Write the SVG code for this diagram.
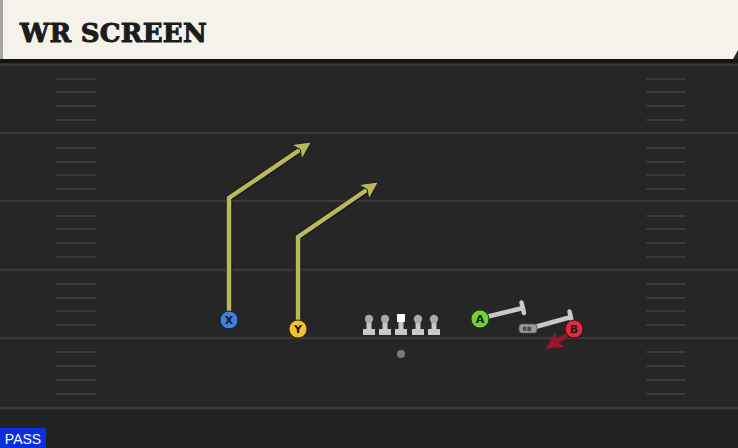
<svg xmlns="http://www.w3.org/2000/svg" width="738" height="448" viewBox="0 0 738 448">
<defs>
<style>
.yl{stroke:#393939;stroke-width:2.5}
.hm{stroke:#3a3a3a;stroke-width:2;stroke-linecap:round}
.route{fill:none;stroke:#b9ba55;stroke-width:4.5;stroke-linejoin:miter}
.routeo{fill:none;stroke:#15152a;stroke-width:6.5;stroke-linejoin:miter}
.blk{fill:none;stroke:#c8c8c8;stroke-width:4.5}
.lbl{font-family:"DejaVu Sans","Liberation Sans",sans-serif;font-weight:bold;font-size:11px;fill:#1a1a1a;text-anchor:middle}
.ol{fill:#c8c8c8}
</style>
<marker id="ah" markerWidth="4" markerHeight="4" refX="2" refY="2" orient="auto" markerUnits="strokeWidth">
<path d="M0,0 L4,2 L0,4 L1,2 Z" fill="#b9ba55" stroke="#15152a" stroke-width="0.2"/>
</marker>
<marker id="ahr" markerWidth="4" markerHeight="4" refX="2" refY="2" orient="auto" markerUnits="strokeWidth">
<path d="M0,0 L4,2 L0,4 L1,2 Z" fill="#9b1430"/>
</marker>
<g id="lineman">
<rect x="-6" y="13" width="12" height="6" class="ol"/>
<rect x="-2.5" y="3" width="5" height="11" class="ol"/>
<circle cx="0" cy="3" r="4.2" fill="#a8a8a8"/>
</g>
</defs>
<rect width="738" height="448" fill="#262626"/>
<rect x="0" y="410" width="738" height="38" fill="#222"/>
<g id="field">
<line class="yl" x1="0" y1="65" x2="738" y2="65"/>
<line class="yl" x1="0" y1="133" x2="738" y2="133"/>
<line class="yl" x1="0" y1="201" x2="738" y2="201"/>
<line class="yl" x1="0" y1="270" x2="738" y2="270"/>
<line class="yl" x1="0" y1="338" x2="738" y2="338"/>
<line class="yl" x1="0" y1="408" x2="738" y2="408"/>
<g id="hashL">
<line class="hm" x1="57" y1="79" x2="95" y2="79"/><line class="hm" x1="57" y1="92" x2="95" y2="92"/><line class="hm" x1="57" y1="106" x2="95" y2="106"/><line class="hm" x1="57" y1="120" x2="95" y2="120"/>
<line class="hm" x1="57" y1="148" x2="95" y2="148"/><line class="hm" x1="57" y1="162" x2="95" y2="162"/><line class="hm" x1="57" y1="175" x2="95" y2="175"/><line class="hm" x1="57" y1="189" x2="95" y2="189"/>
<line class="hm" x1="57" y1="216" x2="95" y2="216"/><line class="hm" x1="57" y1="229" x2="95" y2="229"/><line class="hm" x1="57" y1="243" x2="95" y2="243"/><line class="hm" x1="57" y1="257" x2="95" y2="257"/>
<line class="hm" x1="57" y1="284" x2="95" y2="284"/><line class="hm" x1="57" y1="298" x2="95" y2="298"/><line class="hm" x1="57" y1="311" x2="95" y2="311"/><line class="hm" x1="57" y1="325" x2="95" y2="325"/>
<line class="hm" x1="57" y1="352" x2="95" y2="352"/><line class="hm" x1="57" y1="366" x2="95" y2="366"/><line class="hm" x1="57" y1="380" x2="95" y2="380"/><line class="hm" x1="57" y1="394" x2="95" y2="394"/>
</g>
<use href="#hashL" x="590"/>
</g>
<g id="header">
<rect x="0" y="59" width="738" height="4" fill="#151515"/>
<rect x="0" y="0" width="3" height="59" fill="#a5a5a5"/>
<path d="M3,0 H738 V50 L733,59 H3 Z" fill="#f5f2eb"/>
<text x="20" y="42" font-family="'DejaVu Serif','Liberation Serif',serif" font-weight="bold" font-size="26" fill="#1c1c1c" stroke="#1c1c1c" stroke-width="1" letter-spacing="0.3">WR SCREEN</text>
</g>
<g id="connectors">
<polyline class="routeo" points="229,318 229,198 302,149"/>
<polyline class="route" points="229,318 229,198 304,147" marker-end="url(#ah)"/>
<polyline class="routeo" points="298,326 298,237 369,189"/>
<polyline class="route" points="298,326 298,237 371,187" marker-end="url(#ah)"/>
<line class="blk" x1="486" y1="317" x2="523" y2="308"/>
<line class="blk" x1="521.5" y1="302.5" x2="524" y2="313" stroke-linecap="round"/>
<line class="blk" x1="535" y1="327" x2="571" y2="317"/>
<line class="blk" x1="569.5" y1="311.5" x2="572" y2="322" stroke-linecap="round"/>
<line x1="567" y1="335" x2="553" y2="344" stroke="#9b1430" stroke-width="4.5" marker-end="url(#ahr)"/>
</g>
<g id="X"><circle cx="229" cy="320" r="9" fill="#3f7fe0" stroke="#12203a" stroke-width="1"/><text class="lbl" x="229" y="324">X</text></g>
<g id="Y"><circle cx="298" cy="329" r="9" fill="#f2c232" stroke="#3a2e08" stroke-width="1"/><text class="lbl" x="298" y="333">Y</text></g>
<g id="OL">
<use href="#lineman" x="369" y="316"/>
<use href="#lineman" x="385" y="316"/>
<g id="C"><rect x="395" y="329" width="12" height="6" class="ol"/><rect x="398.5" y="321" width="5" height="9" class="ol"/><rect x="397" y="314" width="8" height="8" fill="#ffffff"/></g>
<use href="#lineman" x="418" y="316"/>
<use href="#lineman" x="434" y="316"/>
</g>
<g id="QB"><circle cx="401" cy="354" r="4" fill="#7a7a7a"/></g>
<g id="A"><circle cx="480" cy="319" r="9" fill="#6ed23a" stroke="#1d3a10" stroke-width="1"/><text class="lbl" x="480" y="323">A</text></g>
<g id="RB"><rect x="519" y="324" width="18" height="9" rx="3" fill="#9a9a9a" stroke="#555" stroke-width="0.8"/><text x="527" y="331" font-family="'DejaVu Sans',sans-serif" font-size="6" font-weight="bold" fill="#333" text-anchor="middle">RB</text></g>
<g id="B"><circle cx="574" cy="329" r="9" fill="#e02c3c" stroke="#3a0a10" stroke-width="1"/><text class="lbl" x="574" y="333">B</text></g>
<g id="pass"><rect x="0" y="428" width="46" height="20" fill="#0c2ee0"/><text x="23" y="444" font-family="'Liberation Sans',sans-serif" font-size="14" fill="#ffffff" text-anchor="middle">PASS</text></g>
</svg>
